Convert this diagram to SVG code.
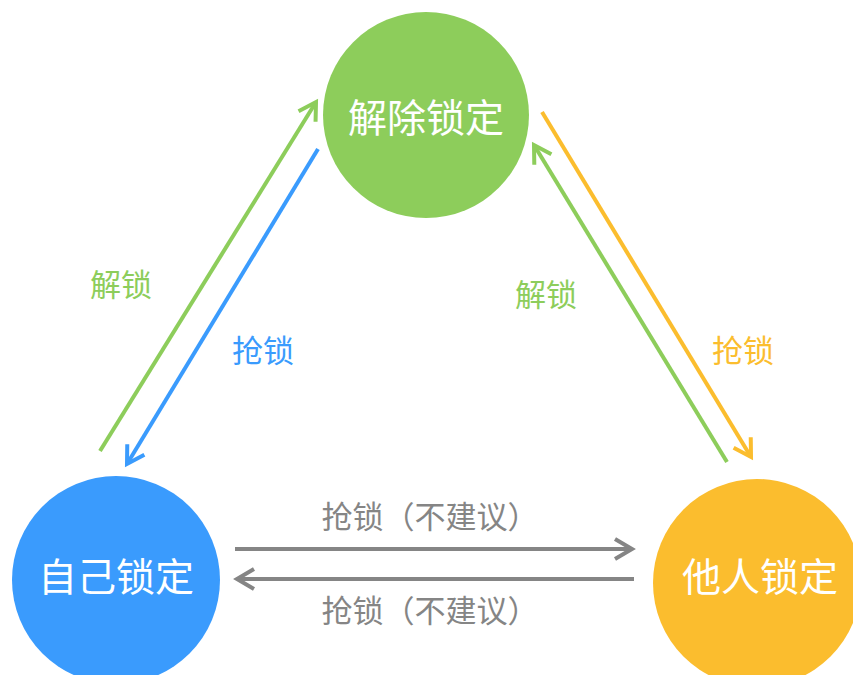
<svg xmlns="http://www.w3.org/2000/svg" width="853" height="675" viewBox="0 0 853 675">
<style>
.node-label{font-family:"Noto Sans CJK SC","Noto Sans",sans-serif;font-size:39px;fill:#fff;text-anchor:middle;dominant-baseline:central}
.lbl{font-family:"Noto Sans CJK SC","Noto Sans",sans-serif;font-size:31px;text-anchor:middle;dominant-baseline:central}
.edge{fill:none;stroke-width:4}
.head{fill:none;stroke-width:4;stroke-linejoin:miter}
</style>
<defs>
<marker id="mg" markerUnits="userSpaceOnUse" markerWidth="40" markerHeight="40" refX="0" refY="0" orient="auto" overflow="visible">
<path class="head" d="M-17,-10 L0,0 L-17,10" stroke="#8dcd5b"/>
</marker>
<marker id="mb" markerUnits="userSpaceOnUse" markerWidth="40" markerHeight="40" refX="0" refY="0" orient="auto" overflow="visible">
<path class="head" d="M-17,-10 L0,0 L-17,10" stroke="#3a9bfd"/>
</marker>
<marker id="mo" markerUnits="userSpaceOnUse" markerWidth="40" markerHeight="40" refX="0" refY="0" orient="auto" overflow="visible">
<path class="head" d="M-17,-10 L0,0 L-17,10" stroke="#fbbd2e"/>
</marker>
<marker id="mx" markerUnits="userSpaceOnUse" markerWidth="40" markerHeight="40" refX="0" refY="0" orient="auto" overflow="visible">
<path class="head" d="M-17,-10 L0,0 L-17,10" stroke="#858585"/>
</marker>
</defs>
<rect width="853" height="675" fill="#fff"/>
<g id="unlock">
<circle cx="426" cy="115" r="103" fill="#8dcd5b"/>
<text class="node-label" x="426" y="115">解除锁定</text>
</g>
<g id="self">
<circle cx="116" cy="580" r="104" fill="#3a9bfd"/>
<text class="node-label" x="116" y="574">自己锁定</text>
</g>
<g id="other">
<circle cx="757" cy="583" r="104" fill="#fbbd2e"/>
<text class="node-label" x="760" y="574">他人锁定</text>
</g>
<g id="connectors">
<line class="edge" x1="100" y1="451" x2="316" y2="102" stroke="#8dcd5b" marker-end="url(#mg)"/>
<line class="edge" x1="318" y1="149" x2="127" y2="464" stroke="#3a9bfd" marker-end="url(#mb)"/>
<line class="edge" x1="542" y1="112" x2="751" y2="457" stroke="#fbbd2e" marker-end="url(#mo)"/>
<line class="edge" x1="727" y1="462" x2="534" y2="145" stroke="#8dcd5b" marker-end="url(#mg)"/>
<line class="edge" x1="235" y1="549" x2="632" y2="549" stroke="#858585" marker-end="url(#mx)"/>
<line class="edge" x1="634" y1="579" x2="237" y2="579" stroke="#858585" marker-end="url(#mx)"/>
<text class="lbl" x="121" y="282" fill="#8dcd5b">解锁</text>
<text class="lbl" x="263" y="348" fill="#3a9bfd">抢锁</text>
<text class="lbl" x="546" y="292" fill="#8dcd5b">解锁</text>
<text class="lbl" x="743" y="348" fill="#fbbd2e">抢锁</text>
<text class="lbl" x="430" y="514" fill="#858585">抢锁（不建议）</text>
<text class="lbl" x="430" y="608" fill="#858585">抢锁（不建议）</text>
</g>
</svg>
